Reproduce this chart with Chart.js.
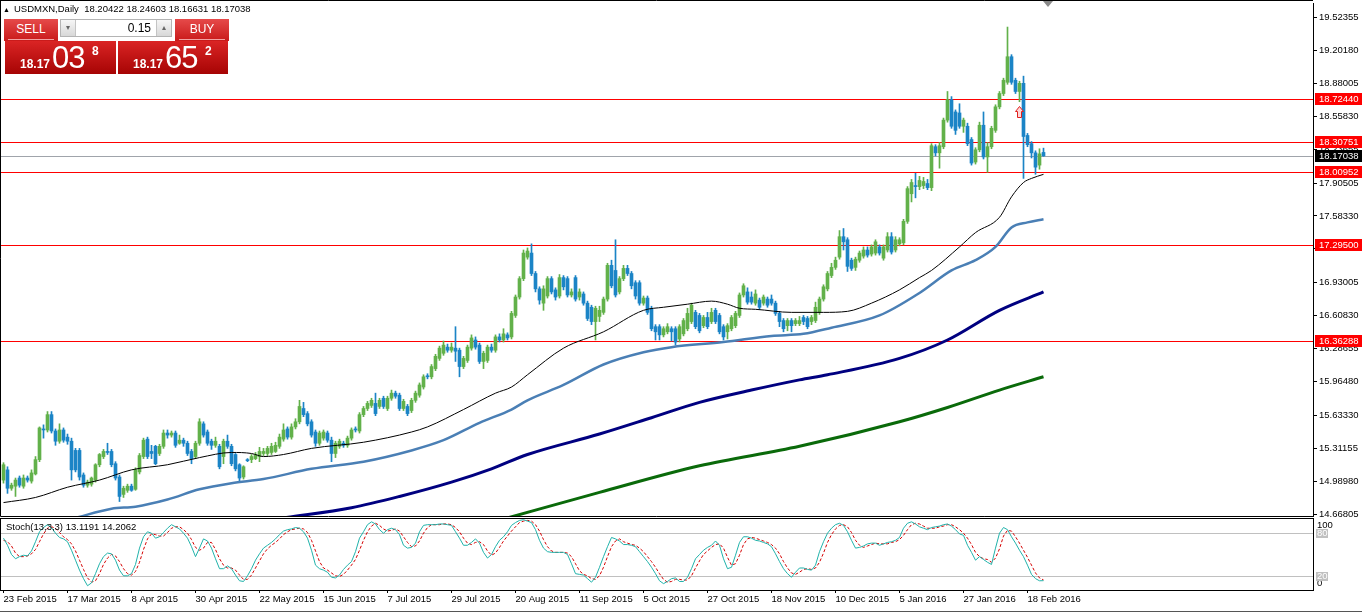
<!DOCTYPE html>
<html>
<head>
<meta charset="utf-8">
<script src="https://cdn.jsdelivr.net/npm/chart.js@4.4.1/dist/chart.umd.min.js"></script>
<style>
  body { margin: 0; background: #fff; }
  #wrap { position: relative; width: 1362px; height: 614px; overflow: hidden; font-family: "Liberation Sans", Arial, sans-serif; }
  canvas { position: absolute; left: 0; }
  #priceChart { top: 0; }
  #stochChart { top: 517px; }
  .title { position: absolute; left: 3px; top: 3px; font-size: 9.5px; color: #000; white-space: nowrap; }
  .title .tri { font-size: 7px; margin-right: 4px; }
  .otc div { position: absolute; box-sizing: border-box; }
  .otc .btn { top: 19px; width: 54px; height: 22px; color: #fff; font-size: 12px; text-align: center; line-height: 20px;
              background: linear-gradient(#e64a4a, #c91a1a); }
  .otc .btn::after { content: ''; position: absolute; left: 4px; right: 4px; bottom: 1px; height: 1px; background: #f2a2a2; }
  .otc .sell { left: 4px; }
  .otc .buy { left: 175px; }
  .otc .lot { left: 60px; top: 19px; width: 112px; height: 18px; background: #fff; border: 1px solid #b4b4b4; }
  .otc .lot .dn, .otc .lot .up { top: 0; width: 15px; height: 16px; background: linear-gradient(#f6f6f6, #d8d8d8);
              font-size: 8px; color: #666; text-align: center; line-height: 16px; }
  .otc .lot .dn { left: 0; border-right: 1px solid #c4c4c4; }
  .otc .lot .up { right: 0; border-left: 1px solid #c4c4c4; }
  .otc .lot .val { right: 20px; top: 1px; font-size: 12px; color: #000; }
  .otc .px { top: 41px; height: 33px; background: linear-gradient(#da2424, #a60404); color: #fff; }
  .otc .sellpx { left: 5px; width: 111px; }
  .otc .buypx { left: 118px; width: 110px; }
  .otc .px span { position: absolute; white-space: nowrap; }
  .otc .px .s { left: 15px; top: 16px; font-size: 12px; font-weight: bold; }
  .otc .px .b { left: 47px; top: -1px; font-size: 31px; letter-spacing: -1px; }
  .otc .px .p { left: 87px; top: 3px; font-size: 12px; font-weight: bold; }
  .shift { position: absolute; left: 1043px; top: 1px; width: 0; height: 0;
           border-left: 5px solid transparent; border-right: 5px solid transparent; border-top: 6px solid #8a8a8a; }
  .tabs { position: absolute; left: 0; top: 611px; width: 1362px; height: 1px; background: #555; }
</style>
</head>
<body>
<div id="wrap">
  <canvas id="priceChart" width="1362" height="517"></canvas>
  <canvas id="stochChart" width="1362" height="97"></canvas>
  <div class="title" id="title"></div>
  <div class="otc">
    <div class="btn sell">SELL</div>
    <div class="lot"><div class="dn">&#9662;</div><div class="val" id="lot"></div><div class="up">&#9652;</div></div>
    <div class="btn buy">BUY</div>
    <div class="px sellpx" id="sellPx"></div>
    <div class="px buypx" id="buyPx"></div>
  </div>
  <div class="shift"></div>
  <div class="tabs"></div>
</div>
<script>
// USDMXN daily bars, 23 Feb 2015 .. 24 Feb 2016
const opens = [
  15.00,15.10,14.92,14.94,15.02,14.94,15.02,14.99,15.06,15.20,
  15.50,15.49,15.64,15.48,15.38,15.49,15.42,15.38,15.29,15.29,
  15.05,14.95,14.96,15.00,15.15,15.23,15.28,15.28,15.16,15.03,
  14.86,14.90,14.94,14.91,15.08,15.23,15.40,15.28,15.33,15.26,
  15.33,15.46,15.44,15.46,15.36,15.39,15.36,15.28,15.23,15.36,
  15.55,15.47,15.38,15.34,15.33,15.23,15.38,15.33,15.25,15.15,
  15.03,15.20,15.20,15.21,15.23,15.26,15.26,15.27,15.28,15.33,
  15.40,15.50,15.42,15.52,15.57,15.70,15.65,15.57,15.47,15.36,
  15.41,15.46,15.39,15.26,15.33,15.36,15.34,15.41,15.50,15.48,
  15.64,15.70,15.73,15.75,15.72,15.80,15.70,15.80,15.85,15.83,
  15.70,15.72,15.68,15.78,15.83,15.91,16.02,16.01,16.09,16.19,
  16.24,16.30,16.27,16.29,16.27,16.11,16.17,16.29,16.37,16.32,
  16.16,16.17,16.30,16.27,16.40,16.37,16.42,16.40,16.61,16.79,
  16.97,17.18,17.22,17.02,16.87,16.73,16.80,16.97,16.86,16.80,
  16.98,16.97,16.81,16.98,16.79,16.82,16.73,16.69,16.55,16.60,
  16.64,16.77,17.10,17.05,16.84,16.97,17.07,17.02,16.93,16.93,
  16.73,16.78,16.68,16.50,16.50,16.42,16.45,16.48,16.48,16.38,
  16.43,16.48,16.55,16.64,16.61,16.51,16.59,16.55,16.66,16.61,
  16.50,16.45,16.48,16.51,16.61,16.81,16.84,16.79,16.73,16.76,
  16.73,16.77,16.77,16.73,16.63,16.56,16.51,16.56,16.53,16.53,
  16.59,16.58,16.55,16.56,16.64,16.77,16.87,17.00,17.08,17.18,
  17.38,17.35,17.15,17.08,17.15,17.19,17.25,17.21,17.22,17.28,
  17.17,17.25,17.38,17.25,17.31,17.32,17.53,17.80,17.88,17.87,
  17.88,17.90,17.86,18.26,18.20,18.26,18.52,18.72,18.60,18.59,
  18.46,18.46,18.33,18.11,18.23,18.47,18.16,18.26,18.42,18.65,
  18.78,18.89,19.14,18.91,18.80,18.88,18.37,18.29,18.20,18.08,
  18.20422
];
const highs = [
  15.17,15.13,14.97,15.02,15.04,15.05,15.04,15.10,15.23,15.52,
  15.54,15.67,15.67,15.50,15.55,15.51,15.45,15.41,15.31,15.31,
  15.07,15.00,15.03,15.16,15.26,15.30,15.36,15.30,15.18,15.05,
  14.94,14.96,14.96,15.12,15.26,15.41,15.42,15.34,15.34,15.35,
  15.49,15.49,15.48,15.48,15.44,15.41,15.38,15.30,15.38,15.60,
  15.57,15.49,15.40,15.42,15.35,15.40,15.44,15.35,15.26,15.16,
  15.14,15.21,15.25,15.27,15.32,15.31,15.33,15.36,15.37,15.45,
  15.55,15.52,15.55,15.60,15.78,15.76,15.67,15.59,15.49,15.48,
  15.49,15.48,15.42,15.38,15.40,15.38,15.43,15.51,15.52,15.66,
  15.72,15.77,15.80,15.85,15.80,15.82,15.82,15.88,15.87,15.85,
  15.79,15.74,15.80,15.87,15.95,16.03,16.04,16.13,16.23,16.31,
  16.36,16.33,16.34,16.50,16.29,16.21,16.32,16.42,16.40,16.34,
  16.26,16.32,16.33,16.42,16.43,16.48,16.44,16.65,16.81,16.99,
  17.25,17.27,17.31,17.04,16.89,16.90,16.99,16.99,16.88,17.01,
  17.00,16.99,16.87,17.00,16.87,16.84,16.75,16.71,16.70,16.70,
  16.79,17.12,17.15,17.35,16.99,17.10,17.10,17.04,16.95,16.95,
  16.80,16.80,16.70,16.52,16.52,16.50,16.53,16.50,16.50,16.52,
  16.58,16.68,16.73,16.66,16.63,16.61,16.64,16.68,16.68,16.63,
  16.52,16.53,16.61,16.65,16.83,16.92,16.88,16.84,16.86,16.78,
  16.81,16.79,16.81,16.75,16.65,16.58,16.58,16.58,16.58,16.60,
  16.61,16.60,16.61,16.74,16.79,16.91,17.04,17.12,17.18,17.44,
  17.46,17.37,17.17,17.18,17.24,17.28,17.28,17.30,17.35,17.30,
  17.30,17.42,17.42,17.38,17.37,17.55,17.87,17.94,18.00,17.97,
  17.96,17.94,18.29,18.28,18.30,18.54,18.80,18.75,18.62,18.68,
  18.54,18.49,18.35,18.25,18.50,18.60,18.30,18.46,18.67,18.80,
  18.93,19.43,19.16,18.93,18.90,18.95,18.39,18.31,18.22,18.24,
  18.24603
];
const lows = [
  14.97,14.87,14.90,14.84,14.93,14.92,14.98,14.97,15.05,15.18,
  15.41,15.47,15.46,15.34,15.36,15.37,15.35,15.00,15.08,15.00,
  14.93,14.93,14.94,14.98,15.13,15.21,15.25,15.13,15.00,14.79,
  14.83,14.88,14.89,14.90,15.06,15.21,15.21,15.21,15.15,15.24,
  15.31,15.41,15.42,15.32,15.35,15.33,15.24,15.16,15.21,15.34,
  15.42,15.34,15.30,15.32,15.11,15.16,15.31,15.14,15.09,14.99,
  15.01,15.18,15.17,15.20,15.18,15.24,15.24,15.25,15.27,15.31,
  15.38,15.40,15.40,15.50,15.55,15.62,15.53,15.42,15.33,15.34,
  15.39,15.37,15.18,15.22,15.31,15.32,15.32,15.39,15.47,15.46,
  15.62,15.68,15.71,15.63,15.70,15.70,15.68,15.78,15.80,15.68,
  15.68,15.63,15.66,15.76,15.81,15.89,15.99,15.99,16.07,16.17,
  16.22,16.25,16.25,16.16,16.01,16.09,16.15,16.27,16.28,16.14,
  16.09,16.15,16.25,16.25,16.35,16.35,16.37,16.38,16.59,16.77,
  16.95,17.16,17.00,16.84,16.72,16.66,16.78,16.82,16.76,16.78,
  16.86,16.79,16.79,16.75,16.76,16.71,16.56,16.52,16.37,16.55,
  16.62,16.75,16.88,16.79,16.82,16.95,17.00,16.87,16.77,16.71,
  16.71,16.62,16.46,16.37,16.37,16.40,16.43,16.36,16.32,16.35,
  16.41,16.46,16.53,16.48,16.44,16.49,16.48,16.53,16.53,16.43,
  16.37,16.38,16.46,16.49,16.59,16.79,16.72,16.72,16.71,16.67,
  16.71,16.69,16.71,16.61,16.50,16.45,16.46,16.45,16.51,16.51,
  16.52,16.48,16.52,16.54,16.62,16.75,16.85,16.98,17.06,17.16,
  17.25,17.04,17.05,17.05,17.13,17.17,17.18,17.19,17.20,17.20,
  17.15,17.23,17.21,17.23,17.29,17.30,17.51,17.72,17.76,17.84,
  17.85,17.84,17.83,18.17,18.05,18.24,18.50,18.44,18.38,18.44,
  18.40,18.27,18.08,18.09,18.21,18.14,18.01,18.24,18.40,18.63,
  18.76,18.87,18.87,18.78,18.70,17.95,18.26,18.15,17.99,18.04,
  18.16631
];
const closes = [
  15.15,14.92,14.95,15.00,14.95,15.02,15.00,15.07,15.20,15.51,
  15.49,15.64,15.48,15.38,15.49,15.39,15.38,15.10,15.10,15.03,
  14.95,14.98,15.02,15.15,15.25,15.28,15.27,15.15,15.02,14.84,
  14.92,14.94,14.90,15.10,15.24,15.39,15.23,15.26,15.16,15.33,
  15.46,15.44,15.46,15.34,15.39,15.36,15.26,15.21,15.36,15.57,
  15.44,15.36,15.34,15.38,15.13,15.38,15.33,15.16,15.11,15.02,
  15.13,15.19,15.23,15.25,15.28,15.28,15.31,15.33,15.34,15.42,
  15.49,15.42,15.52,15.57,15.72,15.64,15.55,15.44,15.36,15.46,
  15.47,15.39,15.26,15.36,15.38,15.34,15.41,15.49,15.49,15.64,
  15.70,15.75,15.78,15.65,15.78,15.72,15.80,15.85,15.82,15.70,
  15.77,15.65,15.78,15.85,15.93,16.01,16.01,16.11,16.21,16.29,
  16.32,16.27,16.30,16.26,16.11,16.19,16.30,16.39,16.30,16.16,
  16.24,16.30,16.27,16.40,16.37,16.43,16.39,16.63,16.79,16.97,
  17.22,17.24,17.02,16.87,16.76,16.87,16.97,16.84,16.79,16.98,
  16.89,16.81,16.84,16.77,16.84,16.73,16.58,16.55,16.68,16.66,
  16.77,17.10,16.90,16.81,16.97,17.07,17.02,16.90,16.80,16.73,
  16.78,16.64,16.48,16.45,16.42,16.48,16.50,16.45,16.35,16.50,
  16.56,16.63,16.71,16.50,16.46,16.59,16.50,16.64,16.55,16.45,
  16.40,16.51,16.59,16.63,16.81,16.90,16.74,16.74,16.82,16.69,
  16.79,16.71,16.73,16.63,16.55,16.48,16.56,16.51,16.56,16.56,
  16.55,16.50,16.59,16.69,16.77,16.89,17.02,17.08,17.15,17.38,
  17.33,17.09,17.07,17.16,17.22,17.25,17.20,17.28,17.33,17.22,
  17.28,17.38,17.23,17.35,17.35,17.53,17.85,17.91,17.87,17.93,
  17.92,17.86,18.27,18.20,18.27,18.52,18.72,18.46,18.42,18.46,
  18.52,18.29,18.10,18.23,18.47,18.16,18.26,18.44,18.65,18.78,
  18.91,19.14,18.89,18.80,18.88,18.36,18.28,18.20,18.06,18.19,
  18.17038
];

// moving averages, read at sample bars
const maBlackBars = [0,8,16,24,32,41,49,57,62,65,70,77,90,102,106,115,123,127,131,140,150,160,165,171,177,181,184,188,197,205,211,217,224,229,232,239,243,249,252,255,257,260];
const maBlackVals = [14.78,14.83,14.93,15.00,15.10,15.15,15.22,15.27,15.26,15.23,15.25,15.31,15.37,15.47,15.52,15.69,15.85,15.91,16.03,16.29,16.45,16.66,16.69,16.72,16.75,16.72,16.68,16.67,16.64,16.64,16.65,16.73,16.86,16.98,17.05,17.28,17.42,17.57,17.77,17.91,17.95,17.99];
const maSteelBars = [18,27,33,41,49,57,65,77,90,102,110,119,127,131,140,150,160,167,180,192,200,207,219,229,237,243,248,252,256,260];
const maSteelVals = [14.63,14.72,14.74,14.81,14.91,14.97,15.01,15.11,15.18,15.29,15.39,15.56,15.69,15.78,15.93,16.13,16.25,16.30,16.35,16.41,16.43,16.49,16.61,16.83,17.05,17.15,17.28,17.47,17.52,17.55];
const maNavyBars = [70,87,99,112,122,131,149,162,174,187,199,206,224,236,249,260];
const maNavyVals = [14.63,14.73,14.84,14.98,15.11,15.25,15.45,15.61,15.76,15.88,15.98,16.03,16.19,16.37,16.66,16.84];
const maGreenBars = [126,149,174,199,224,236,249,260];
const maGreenVals = [14.63,14.88,15.14,15.33,15.57,15.71,15.88,16.01];

// stochastic (13,3,3)
const stochK = [
  73,63,50,44,47,49,48,55,68,82, 88,92,88,80,74,72,68,56,42,28,
  16,6,10,23,37,47,52,51,42,28, 20,20,23,36,59,75,82,80,73,75,
  81,87,92,89,86,80,73,61,47,59, 72,69,59,44,30,30,34,30,21,13,
  12,20,30,42,51,59,63,67,72,78, 83,85,86,88,87,82,73,56,35,30,
  28,25,18,17,21,29,35,40,54,73, 82,92,96,93,85,80,85,87,85,78,
  63,59,60,66,82,91,92,92,92,93, 93,92,91,82,73,63,63,67,72,66,
  53,45,50,61,70,75,82,91,95,98, 99,97,95,85,70,59,54,53,53,53,
  53,50,37,23,22,21,16,11,18,32, 47,61,74,72,69,64,64,63,61,54,
  47,40,32,23,13,9,12,16,17,12, 12,18,30,44,50,56,60,63,69,63,
  44,30,32,49,67,75,75,73,70,69, 67,65,61,51,40,30,23,18,25,31,
  31,29,28,35,54,68,80,87,92,94, 91,82,70,59,60,62,65,66,66,63,
  65,67,68,70,74,87,94,96,93,89, 87,85,88,89,90,92,93,90,85,79,
  77,63,53,42,47,43,39,36,59,80, 88,85,75,66,56,47,35,22,16,13,
  13.1191
];
const stochD = [
  70,68,62,52,47,47,48,51,57,68, 79,87,89,87,81,75,71,65,55,42,
  29,17,11,13,23,36,45,50,48,40, 30,23,21,26,39,57,72,79,78,76,
  76,81,87,89,89,85,80,71,60,56, 59,67,67,57,44,35,31,31,28,21,
  15,15,21,31,41,51,58,63,67,72, 78,82,85,86,87,86,81,70,55,40,
  31,28,24,20,19,22,28,35,43,56, 70,82,90,94,91,86,83,84,86,83,
  75,67,61,62,69,80,88,92,92,92, 93,93,92,88,82,73,66,64,67,68,
  64,55,49,52,60,69,76,83,89,95, 97,98,97,92,83,71,61,55,53,53,
  53,52,47,37,27,22,20,16,15,20, 32,47,61,69,72,68,66,64,63,59,
  54,47,40,32,23,15,11,12,15,15, 14,14,20,31,41,50,55,60,64,65,
  59,46,35,37,49,64,72,74,73,71, 69,67,64,59,51,40,31,24,22,25,
  29,30,29,31,39,52,67,78,86,91, 92,89,81,70,63,60,62,64,66,65,
  65,65,67,68,71,77,85,92,94,93, 90,87,87,87,89,90,92,92,89,85,
  80,73,64,53,47,44,43,39,45,58, 76,84,83,75,66,56,46,35,24,17,
  14.2062
];

const priceTicks = [19.52355,19.20180,18.88005,18.55830,18.23655,17.90505,17.58330,17.26155,16.93005,16.60830,16.28655,15.96480,15.63330,15.31155,14.98980,14.66805];
const levelPrices = [18.72440,18.30751,18.00952,17.29500,16.36288];
const stochLevels = [80,20];
const arrowBars = [254];
const arrowPrices = [18.66];
const xLabelBars = [0,16,32,48,64,80,96,112,128,144,160,176,192,208,224,240,256];
const xLabels = ['23 Feb 2015','17 Mar 2015','8 Apr 2015','30 Apr 2015','22 May 2015','15 Jun 2015','7 Jul 2015','29 Jul 2015','20 Aug 2015','11 Sep 2015','5 Oct 2015','27 Oct 2015','18 Nov 2015','10 Dec 2015','5 Jan 2016','27 Jan 2016','18 Feb 2016'];
const symbol = 'USDMXN,Daily';
const lotSize = 0.15;
const askPrice = 18.17652;

const FONT = "'Liberation Sans', Arial, sans-serif";
Chart.defaults.font.family = FONT;
Chart.defaults.font.size = 9.5;
Chart.defaults.color = '#000';

const X_MIN = -0.625, X_MAX = 327.375;
const UP = '#62b14a', DOWN = '#1b84c6';
const last = closes.length - 1;
const bid = closes[last];
const barIdx = closes.map((c, i) => i);
const candleColor = ctx => closes[ctx.dataIndex] >= opens[ctx.dataIndex] ? UP : DOWN;
const pts = (bars, vals) => bars.map((b, k) => ({ x: b, y: vals[k] }));
const maLine = (bars, vals, color, width) => ({
    type: 'line', data: pts(bars, vals), borderColor: color, borderWidth: width,
    pointRadius: 0, cubicInterpolationMode: 'monotone', order: 0
});
// keep the plot area exactly where the layout puts it
const noPad = s => { s.paddingTop = 0; s.paddingBottom = 0; s.paddingLeft = 0; s.paddingRight = 0; };

// header + one click panel
document.getElementById('title').innerHTML = '<span class="tri">&#9650;</span>' + symbol + '&nbsp; ' +
    [opens[last], highs[last], lows[last], closes[last]].map(v => v.toFixed(5)).join(' ');
document.getElementById('lot').textContent = lotSize.toFixed(2);
function pricePanel(p) {
    const s = p.toFixed(5);
    return '<span class="s">' + s.slice(0, 5) + '</span><span class="b">' + s.slice(5, 7) + '</span><span class="p">' + s.slice(7) + '</span>';
}
document.getElementById('sellPx').innerHTML = pricePanel(bid);
document.getElementById('buyPx').innerHTML = pricePanel(askPrice);

function labelBox(ctx, y, text, bg, fg) {
    ctx.fillStyle = bg;
    ctx.fillRect(1315, Math.round(y) - 6, 47, 12);
    ctx.fillStyle = fg;
    ctx.textAlign = 'left';
    ctx.textBaseline = 'middle';
    ctx.fillText(text, 1319, Math.round(y) + 0.5);
}

const pricePanelPlugin = {
    id: 'pricePanel',
    beforeDatasetsDraw(chart) {
        const { ctx, chartArea: a, scales: { y } } = chart;
        ctx.save();
        ctx.lineWidth = 1;
        ctx.strokeStyle = '#a0a4ab';
        let py = Math.round(y.getPixelForValue(bid)) + 0.5;
        ctx.beginPath(); ctx.moveTo(a.left, py); ctx.lineTo(a.right, py); ctx.stroke();
        ctx.strokeStyle = '#ff0000';
        levelPrices.forEach(p => {
            py = Math.round(y.getPixelForValue(p)) + 0.5;
            ctx.beginPath(); ctx.moveTo(a.left, py); ctx.lineTo(a.right, py); ctx.stroke();
        });
        ctx.restore();
    },
    afterDraw(chart) {
        const { ctx, chartArea: a, scales: { x, y } } = chart;
        ctx.save();
        ctx.strokeStyle = '#000';
        ctx.lineWidth = 1;
        // window frame: top edge, left edge, bottom of the price panel
        ctx.beginPath();
        ctx.moveTo(0, 0.5); ctx.lineTo(a.right, 0.5);
        ctx.moveTo(a.left - 0.5, 0); ctx.lineTo(a.left - 0.5, a.bottom + 0.5);
        ctx.moveTo(a.left - 0.5, a.bottom + 0.5); ctx.lineTo(a.right, a.bottom + 0.5);
        ctx.stroke();

        // order arrow
        arrowBars.forEach((b, k) => {
            const ax = Math.round(x.getPixelForValue(b)) + 0.5;
            const ay = Math.round(y.getPixelForValue(arrowPrices[k])) + 0.5;
            ctx.beginPath();
            ctx.moveTo(ax, ay);
            ctx.lineTo(ax + 4, ay + 5); ctx.lineTo(ax + 2, ay + 5); ctx.lineTo(ax + 2, ay + 11);
            ctx.lineTo(ax - 2, ay + 11); ctx.lineTo(ax - 2, ay + 5); ctx.lineTo(ax - 4, ay + 5);
            ctx.closePath();
            ctx.fillStyle = '#ffd6d6'; ctx.fill();
            ctx.strokeStyle = '#e0201e'; ctx.stroke();
        });

        ctx.font = '9.5px ' + FONT;
        levelPrices.forEach(p => labelBox(ctx, y.getPixelForValue(p), p.toFixed(5), '#ff0000', '#fff'));
        labelBox(ctx, y.getPixelForValue(bid), bid.toFixed(5), '#000', '#fff');
        ctx.restore();
    }
};

new Chart(document.getElementById('priceChart'), {
    type: 'bar',
    data: {
        datasets: [
            { data: barIdx.map(i => ({ x: i, y: [lows[i], highs[i]] })), backgroundColor: candleColor,
              barThickness: 1, grouped: false, order: 3 },
            { data: barIdx.map(i => ({ x: i, y: [opens[i], closes[i]] })), backgroundColor: candleColor,
              barThickness: 3, minBarLength: 1, grouped: false, order: 2 },
            maLine(maGreenBars, maGreenVals, '#0a6a0a', 3),
            maLine(maNavyBars, maNavyVals, '#000080', 3),
            maLine(maSteelBars, maSteelVals, '#4a7fb5', 2.5),
            maLine(maBlackBars, maBlackVals, '#000', 1)
        ]
    },
    options: {
        responsive: false,
        animation: false,
        layout: { padding: { left: 1, top: 3, right: 0, bottom: 1 } },
        plugins: { legend: { display: false }, tooltip: { enabled: false } },
        scales: {
            x: { type: 'linear', min: X_MIN, max: X_MAX, offset: false, display: false },
            y: {
                position: 'right', min: 14.6487, max: 19.6653,
                afterFit: s => { s.width = 49; noPad(s); },
                afterBuildTicks: s => { s.ticks = priceTicks.map(v => ({ value: v })); },
                ticks: { autoSkip: false, padding: 2, color: '#000', callback: v => v.toFixed(5) },
                grid: { drawOnChartArea: false, tickLength: 4, color: '#000' },
                border: { color: '#000' }
            }
        }
    },
    plugins: [pricePanelPlugin]
});

const stochPanelPlugin = {
    id: 'stochPanel',
    beforeDatasetsDraw(chart) {
        const { ctx, chartArea: a, scales: { y } } = chart;
        ctx.save();
        ctx.strokeStyle = '#c0c0c0';
        ctx.lineWidth = 1;
        stochLevels.forEach(v => {
            const py = Math.round(y.getPixelForValue(v)) + 0.5;
            ctx.beginPath(); ctx.moveTo(a.left, py); ctx.lineTo(a.right, py); ctx.stroke();
        });
        ctx.restore();
    },
    afterDraw(chart) {
        const { ctx, chartArea: a, scales: { y } } = chart;
        ctx.save();
        ctx.strokeStyle = '#000';
        ctx.lineWidth = 1;
        ctx.strokeRect(a.left - 0.5, a.top - 0.5, a.right - a.left + 1, a.bottom - a.top + 1);
        ctx.font = '9.5px ' + FONT;
        ctx.textBaseline = 'middle';
        ctx.textAlign = 'left';
        ctx.fillStyle = '#000';
        ctx.fillText('Stoch(13,3,3) ' + stochK[last].toFixed(4) + ' ' + stochD[last].toFixed(4), a.left + 5, a.top + 8);
        // right scale: 100 / 0 inside, level boxes
        ctx.fillText('100', 1317, a.top + 6);
        ctx.fillText('0', 1317, a.bottom - 7);
        stochLevels.forEach(v => {
            const py = Math.round(y.getPixelForValue(v));
            ctx.fillStyle = '#c0c0c0';
            ctx.fillRect(1316, py - 4, 12, 9);
            ctx.fillStyle = '#fff';
            ctx.fillText(String(v), 1317, py + 0.5);
        });
        ctx.restore();
    }
};

new Chart(document.getElementById('stochChart'), {
    type: 'line',
    data: {
        datasets: [
            { data: barIdx.map(i => ({ x: i, y: stochD[i] })), borderColor: '#d40000', borderWidth: 1,
              borderDash: [3, 2], pointRadius: 0, order: 1 },
            { data: barIdx.map(i => ({ x: i, y: stochK[i] })), borderColor: '#20b2aa', borderWidth: 1,
              pointRadius: 0, order: 0 }
        ]
    },
    options: {
        responsive: false,
        animation: false,
        layout: { padding: { left: 1, top: 2, right: 0, bottom: 0 } },
        plugins: { legend: { display: false }, tooltip: { enabled: false } },
        scales: {
            x: {
                type: 'linear', min: X_MIN, max: X_MAX, offset: false,
                afterFit: s => { s.height = 24; noPad(s); },
                afterBuildTicks: s => { s.ticks = xLabelBars.map(v => ({ value: v })); },
                ticks: { autoSkip: false, maxRotation: 0, align: 'start', padding: 1, color: '#000',
                         callback: (v, i) => xLabels[i] },
                grid: { drawOnChartArea: false, tickLength: 3, color: '#000' },
                border: { color: '#000' }
            },
            y: {
                position: 'right', min: 0, max: 100,
                afterFit: s => { s.width = 49; noPad(s); },
                ticks: { display: false },
                grid: { display: false },
                border: { color: '#000' }
            }
        }
    },
    plugins: [stochPanelPlugin]
});
</script>
</body>
</html>
